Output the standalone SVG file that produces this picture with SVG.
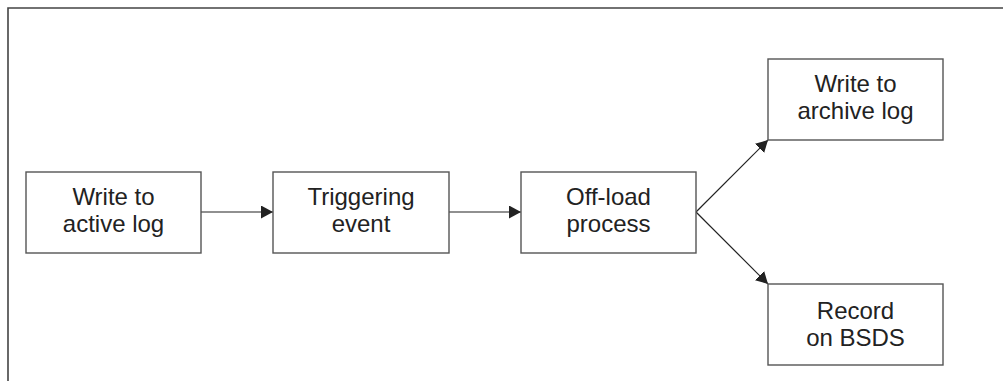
<svg xmlns="http://www.w3.org/2000/svg" width="1003" height="381" viewBox="0 0 1003 381">
<style>
.box{fill:#fff;stroke:#555;stroke-width:1.4}
.lbl{font-family:"Liberation Sans",Arial,sans-serif;font-size:24px;fill:#222;text-anchor:middle}
.con{stroke:#222;stroke-width:1.2;fill:none}
</style>
<defs>
<marker id="arr" viewBox="0 0 12 13" refX="12" refY="6.5" markerWidth="12" markerHeight="13" markerUnits="userSpaceOnUse" orient="auto">
<path d="M0,0 L12,6.5 L0,13 Z" fill="#222"/>
</marker>
</defs>
<rect width="1003" height="381" fill="#fff"/>
<path d="M8,381 L8,8 L1003,8" fill="none" stroke="#444" stroke-width="1.6"/>
<g id="connectors">
<line class="con" x1="201" y1="212" x2="273" y2="212" marker-end="url(#arr)"/>
<line class="con" x1="449" y1="212" x2="521" y2="212" marker-end="url(#arr)"/>
<line class="con" x1="696" y1="212" x2="768" y2="140" marker-end="url(#arr)"/>
<line class="con" x1="696" y1="212" x2="768" y2="284" marker-end="url(#arr)"/>
</g>
<g id="n1"><rect class="box" x="26" y="172" width="175" height="81"/><text class="lbl" x="113.5" y="205">Write to</text><text class="lbl" x="113.5" y="232">active log</text></g>
<g id="n2"><rect class="box" x="273" y="172" width="176" height="81"/><text class="lbl" x="361" y="205">Triggering</text><text class="lbl" x="361" y="232">event</text></g>
<g id="n3"><rect class="box" x="521" y="172" width="175" height="81"/><text class="lbl" x="608.5" y="205">Off-load</text><text class="lbl" x="608.5" y="232">process</text></g>
<g id="n4"><rect class="box" x="768" y="59" width="175" height="81"/><text class="lbl" x="855.5" y="92">Write to</text><text class="lbl" x="855.5" y="119">archive log</text></g>
<g id="n5"><rect class="box" x="768" y="284" width="175" height="81"/><text class="lbl" x="855.5" y="319">Record</text><text class="lbl" x="855.5" y="346">on BSDS</text></g>
</svg>
